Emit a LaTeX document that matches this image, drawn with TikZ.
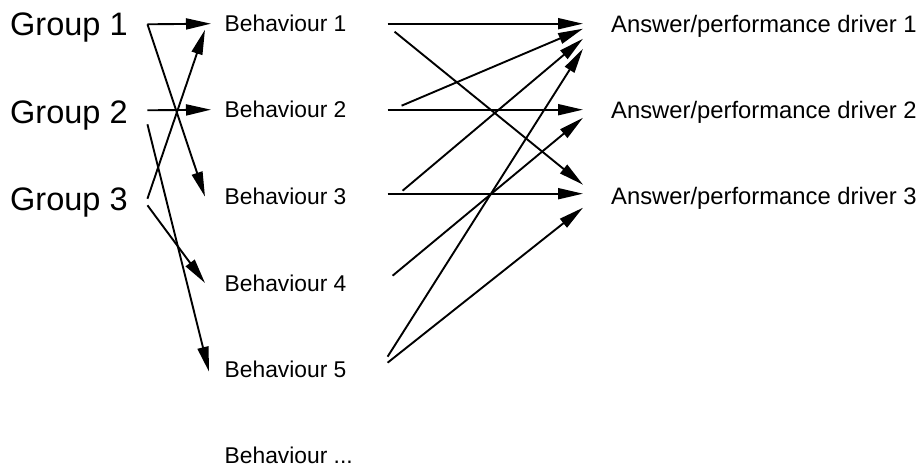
\documentclass[tikz,border=0pt]{standalone}
\usepackage{fontspec}
\setmainfont{Liberation Sans}
\usetikzlibrary{arrows.meta}
\begin{document}
\begin{tikzpicture}[x=1pt,y=-1pt,
  lbl/.style={inner sep=0pt,anchor=west,text depth=0pt},
  grp/.style={lbl,text height=23.4pt,font=\fontsize{32.5}{38}\selectfont},
  beh/.style={lbl,text height=16.4pt,font=\fontsize{22.8}{27}\selectfont},
  ans/.style={lbl,text height=17.1pt,font=\fontsize{23.8}{28}\selectfont},
  arr/.style={line width=1.9pt,-{Triangle[length=25pt,width=11pt]}}]
\useasboundingbox (0,0) rectangle (920,468);

% groups
\node[grp] (g1) at (10,24.3) {Group 1};
\node[grp] (g2) at (10,112.3) {Group 2};
\node[grp] (g3) at (10,198.3) {Group 3};

% behaviours
\node[beh] (b1) at (224.5,23.7) {Behaviour 1};
\node[beh] (b2) at (224.5,109.7) {Behaviour 2};
\node[beh] (b3) at (224.5,196.7) {Behaviour 3};
\node[beh] (b4) at (224.5,283.7) {Behaviour 4};
\node[beh] (b5) at (224.5,369.7) {Behaviour 5};
\node[beh] (b6) at (224.5,455.7) {Behaviour ...};

% drivers
\node[ans] (a1) at (611,23.7) {Answer/performance driver 1};
\node[ans] (a2) at (611,109.7) {Answer/performance driver 2};
\node[ans] (a3) at (611,195.7) {Answer/performance driver 3};

% groups to behaviours
\draw[arr] ([shift={(19.6,0)}]g1.east) -- ([shift={(-13.5,0)}]b1.west);
\draw[arr] ([shift={(19.6,0)}]g1.east) -- ([shift={(-19.5,0)}]b3.west);
\draw[arr] ([shift={(19.6,-2)}]g2.east) -- ([shift={(-13.5,0)}]b2.west);
\draw[arr] ([shift={(19.6,0.5)}]g3.east) -- ([shift={(-19.5,6)}]b1.west);
\draw[arr] ([shift={(19.6,12)}]g2.east) -- ([shift={(-15.5,2)}]b5.west);
\draw[arr] ([shift={(19.6,7)}]g3.east) -- ([shift={(-19.5,-0.7)}]b4.west);

% behaviours to drivers
\draw[arr] ([shift={(41,0)}]b1.east) -- ([shift={(-28,0)}]a1.west);
\draw[arr] ([shift={(48,8)}]b1.east) -- ([shift={(-28,-11)}]a3.west);
\draw[arr] ([shift={(55,-4)}]b2.east) -- ([shift={(-28,5)}]a1.west);
\draw[arr] ([shift={(41,0)}]b2.east) -- ([shift={(-28,0)}]a2.west);
\draw[arr] ([shift={(56,-6)}]b3.east) -- ([shift={(-28,15)}]a1.west);
\draw[arr] ([shift={(41,-3)}]b3.east) -- ([shift={(-28,-2)}]a3.west);
\draw[arr] ([shift={(46,-8)}]b4.east) -- ([shift={(-28,8)}]a2.west);
\draw[arr] ([shift={(41,-13)}]b5.east) -- ([shift={(-28,25)}]a1.west);
\draw[arr] ([shift={(41,-7)}]b5.east) -- ([shift={(-28,12)}]a3.west);
\end{tikzpicture}
\end{document}
